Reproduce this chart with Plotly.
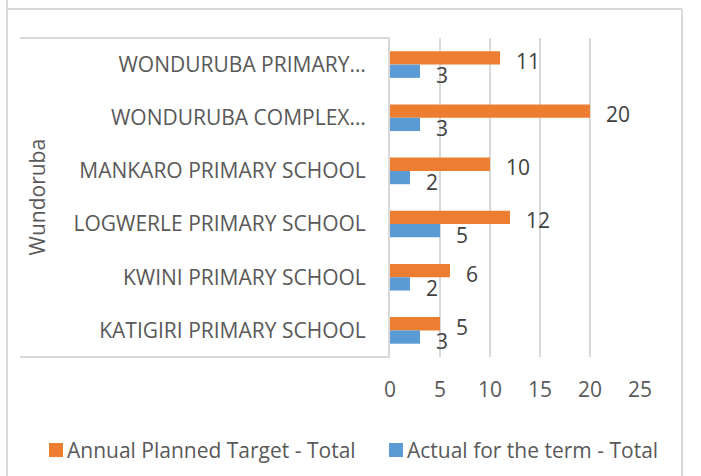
import plotly.graph_objects as go

# ---- data ----
schools = [
    "KATIGIRI PRIMARY SCHOOL",
    "KWINI PRIMARY SCHOOL",
    "LOGWERLE PRIMARY SCHOOL",
    "MANKARO PRIMARY SCHOOL",
    "WONDURUBA COMPLEX…",
    "WONDURUBA PRIMARY…",
]
planned = [5, 6, 12, 10, 20, 11]
actual = [3, 2, 5, 2, 3, 3]
group_label = "Wundoruba"
x_ticks = [0, 5, 10, 15, 20, 25]
series_names = ["Annual Planned Target - Total", "Actual for the term - Total"]

# ---- layout geometry (pixels) ----
W, H = 701, 476
L, R, T, B = 390, 640, 38, 357  # plot area edges in pixels
FONT = "Open Sans"
FS = 21
ORANGE = "#ED7D31"
BLUE = "#5B9BD5"
GRID = "#D9D9D9"
TXT = "#595959"
colors = [ORANGE, BLUE]


def px_x(px):
    return (px - L) / (R - L)


def px_y(py):
    return (B - py) / (B - T)


pos = list(range(len(schools)))

fig = go.Figure()
fig.add_trace(go.Bar(
    y=pos, x=planned, orientation="h", width=0.25, offset=0,
    marker=dict(color=ORANGE, line=dict(width=0)), name=series_names[0],
    hoverinfo="x", showlegend=False,
))
fig.add_trace(go.Bar(
    y=pos, x=actual, orientation="h", width=0.25, offset=-0.25,
    marker=dict(color=BLUE, line=dict(width=0)), name=series_names[1],
    hoverinfo="x", showlegend=False,
))

annotations = []
for i, v in enumerate(planned):
    annotations.append(dict(
        x=v, y=pos[i] + 0.125, xref="x", yref="y", text=str(v), showarrow=False,
        xanchor="left", yanchor="middle", xshift=14, yshift=-3,
        font=dict(family=FONT, size=FS, color="#404040"),
    ))
for i, v in enumerate(actual):
    annotations.append(dict(
        x=v, y=pos[i] - 0.125, xref="x", yref="y", text=str(v), showarrow=False,
        xanchor="left", yanchor="middle", xshift=14, yshift=-4,
        font=dict(family=FONT, size=FS, color="#404040"),
    ))
annotations.append(dict(
    x=px_x(36), y=px_y((T + B) / 2), xref="paper", yref="paper",
    text=group_label, textangle=-90, showarrow=False,
    xanchor="center", yanchor="middle",
    font=dict(family=FONT, size=FS, color=TXT),
))

line_style = dict(color=GRID, width=2)
shapes = [
    # category box lines
    dict(type="line", xref="paper", yref="paper", x0=px_x(20), x1=px_x(L), y0=px_y(T), y1=px_y(T), line=line_style),
    dict(type="line", xref="paper", yref="paper", x0=px_x(20), x1=px_x(L), y0=px_y(B), y1=px_y(B), line=line_style),
    # outer chart border
    dict(type="line", xref="paper", yref="paper", x0=px_x(7), x1=px_x(7), y0=px_y(0), y1=px_y(H), line=line_style),
    dict(type="line", xref="paper", yref="paper", x0=px_x(7), x1=px_x(682), y0=px_y(9), y1=px_y(9), line=line_style),
    dict(type="line", xref="paper", yref="paper", x0=px_x(682), x1=px_x(682), y0=px_y(9), y1=px_y(H), line=line_style),
]

# ---- legend (drawn manually, Excel style) ----
legend_sq_x = [49, 389]
legend_y = 450
for k, name in enumerate(series_names):
    sx = legend_sq_x[k]
    shapes.append(dict(
        type="rect", xref="paper", yref="paper",
        x0=px_x(sx), x1=px_x(sx + 14), y0=px_y(legend_y - 7), y1=px_y(legend_y + 7),
        fillcolor=colors[k], line=dict(width=0),
    ))
    annotations.append(dict(
        x=px_x(sx + 16), y=px_y(legend_y), xref="paper", yref="paper",
        text=name, showarrow=False, xanchor="left", yanchor="middle",
        font=dict(family=FONT, size=FS, color=TXT),
    ))

fig.update_layout(
    width=W, height=H,
    margin=dict(l=L, r=W - R, t=T, b=H - B, pad=0),
    paper_bgcolor="white", plot_bgcolor="white",
    barmode="overlay",
    font=dict(family=FONT, size=FS, color=TXT),
    showlegend=False,
    xaxis=dict(
        range=[0, 25], tickvals=x_ticks, showgrid=True, gridcolor=GRID, gridwidth=2,
        zeroline=False, showline=False, ticks="outside", ticklen=14,
        tickcolor="rgba(0,0,0,0)", tickfont=dict(family=FONT, size=FS, color=TXT),
        fixedrange=True,
    ),
    yaxis=dict(
        range=[-0.5, 5.5], tickvals=pos, ticktext=schools, showgrid=False,
        zeroline=False, showline=True, linecolor=GRID, linewidth=2,
        ticks="outside", ticklen=18, tickcolor="rgba(0,0,0,0)",
        tickfont=dict(family=FONT, size=FS, color=TXT), fixedrange=True,
    ),
    annotations=annotations,
    shapes=shapes,
)

fig.write_html(
    "out.html",
    config={"displayModeBar": False},
    post_script="document.body.style.margin='0';document.body.style.overflow='hidden';",
)
